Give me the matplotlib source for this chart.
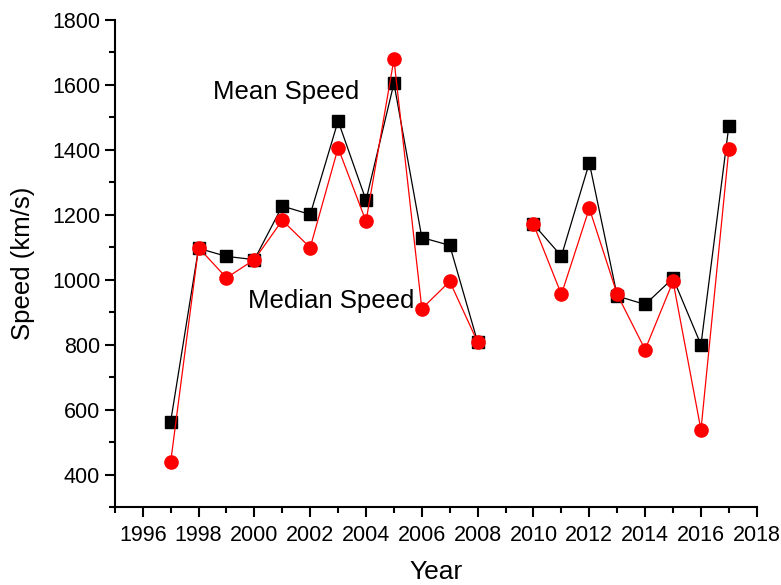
# Mean and median speed per year, 1997-2017 (no data for 2009)

import numpy as np
import matplotlib.pyplot as plt
from matplotlib.ticker import MultipleLocator

plt.rcParams['font.family'] = ['Liberation Sans', 'DejaVu Sans']

years = [1997, 1998, 1999, 2000, 2001, 2002, 2003, 2004, 2005, 2006, 2007, 2008,
         2009, 2010, 2011, 2012, 2013, 2014, 2015, 2016, 2017]
mean_speed = [563, 1097, 1072, 1062, 1227, 1201, 1489, 1245, 1605, 1130, 1106, 808,
              np.nan, 1171, 1073, 1360, 950, 924, 1005, 800, 1474]
median_speed = [438, 1099, 1006, 1062, 1183, 1099, 1406, 1180, 1679, 911, 995, 808,
                np.nan, 1171, 955, 1220, 955, 785, 995, 538, 1402]


def main():
    fig = plt.figure(figsize=(7.81, 5.85), dpi=100)
    ax = fig.add_axes([0.147, 0.133, 0.822, 0.833])

    ax.plot(years, mean_speed, color='black', lw=0.9, marker='s', ms=8,
            mfc='black', mec='black')
    ax.plot(years, median_speed, color='red', lw=0.9, marker='o', ms=9.5,
            mfc='red', mec='red')

    ax.text(2001.13, 1578, 'Mean Speed', fontsize=18.5, va='center', ha='center')
    ax.text(2002.74, 936, 'Median Speed', fontsize=18.5, va='center', ha='center')

    ax.set_xlim(1995, 2018)
    ax.set_ylim(300, 1800)
    ax.xaxis.set_minor_locator(MultipleLocator(1))
    ax.yaxis.set_minor_locator(MultipleLocator(100))
    ax.set_xticks(range(1996, 2019, 2))
    ax.set_yticks(range(400, 1801, 200))

    ax.spines['top'].set_visible(False)
    ax.spines['right'].set_visible(False)
    ax.spines['left'].set_linewidth(1.5)
    ax.spines['bottom'].set_linewidth(1.5)
    ax.tick_params(which='major', direction='out', length=7, width=1.5, labelsize=15.5)
    ax.tick_params(axis='x', which='major', pad=6)
    ax.tick_params(which='minor', direction='out', length=4, width=1.5)

    ax.set_xlabel('Year', fontsize=19, labelpad=10)
    ax.set_ylabel('Speed (km/s)', fontsize=18.5, labelpad=12)

    fig.savefig('out.png', dpi=100)


if __name__ == "__main__":
    main()
